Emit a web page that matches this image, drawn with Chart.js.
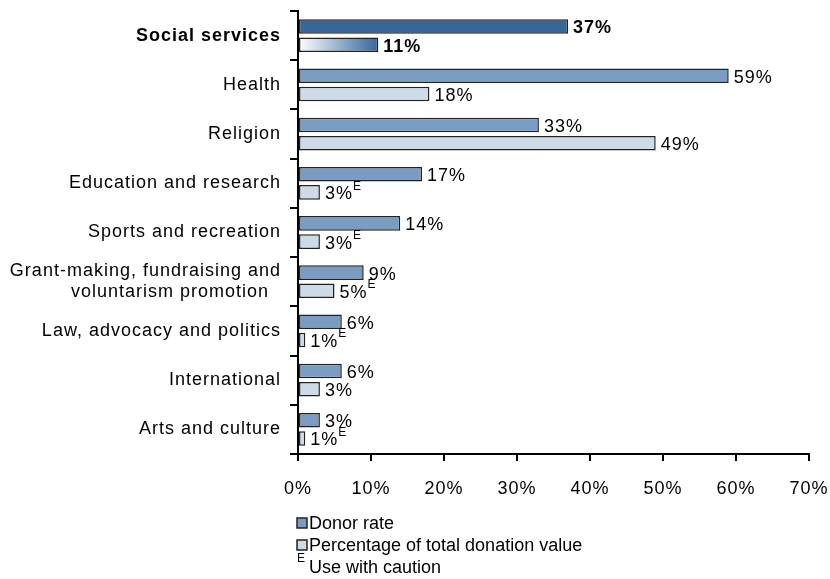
<!DOCTYPE html>
<html>

<head>
    <title>Donor rate and share of donation value, by cause</title>
    <script src="https://cdn.jsdelivr.net/npm/chart.js"></script>
    <style>
        body { margin: 0; background: #fff; }
        #wrap { width: 830px; height: 579px; }
    </style>
</head>

<body>
    <div id="wrap">
        <canvas id="donations-chart" width="830" height="579"></canvas>
    </div>

    <script>
        // Causes, top to bottom
        const categories = [
            'Social services',
            'Health',
            'Religion',
            'Education and research',
            'Sports and recreation',
            ['Grant-making, fundraising and', 'voluntarism promotion  '],
            'Law, advocacy and politics',
            'International',
            'Arts and culture'
        ];
        const donorRate = [37, 59, 33, 17, 14, 9, 6, 6, 3];
        const donationShare = [11, 18, 49, 3, 3, 5, 1, 3, 1];
        // "E" flag on the donation share estimates
        const shareCaution = [false, false, false, true, true, true, true, false, true];
        const xTicks = [0, 10, 20, 30, 40, 50, 60, 70];

        const highlight = 0; // Social services is emphasised
        const FONT = '"Liberation Sans", Arial, sans-serif';
        const DARK = '#36669a';
        const DONOR = '#7a9bc2';
        const SHARE = '#cddae7';
        const SPACING = '1px';

        // the canvas state is reset whenever Chart.js sizes it, so reapply the
        // wider letter spacing before measuring and before drawing
        const wideText = {
            id: 'wideText',
            beforeUpdate(chart) { chart.ctx.letterSpacing = SPACING; },
            beforeDraw(chart) { chart.ctx.letterSpacing = SPACING; }
        };

        // value labels at the end of each bar, with the "E" superscript
        const valueLabels = {
            id: 'valueLabels',
            afterDatasetsDraw(chart) {
                const ctx = chart.ctx;
                ctx.save();
                ctx.fillStyle = '#000';
                ctx.textAlign = 'left';
                ctx.textBaseline = 'middle';
                chart.data.datasets.forEach((ds, di) => {
                    chart.getDatasetMeta(di).data.forEach((bar, i) => {
                        ctx.font = (i === highlight ? 'bold ' : '') + '18px ' + FONT;
                        const text = ds.data[i] + '%';
                        const x = bar.x + 5;
                        const y = bar.y + 2;
                        ctx.fillText(text, x, y);
                        if (di === 1 && shareCaution[i]) {
                            const w = ctx.measureText(text).width;
                            ctx.font = '12px ' + FONT;
                            ctx.fillText('E', x + w, y - 8);
                        }
                    });
                });
                ctx.restore();
            }
        };

        // legend under the axis, set in normal spacing
        const footLegend = {
            id: 'footLegend',
            afterDraw(chart) {
                const ctx = chart.ctx;
                ctx.save();
                ctx.letterSpacing = '0px';
                ctx.textAlign = 'left';
                ctx.textBaseline = 'middle';
                ctx.lineWidth = 1.5;
                ctx.strokeStyle = '#222';
                const rows = [
                    { color: DONOR, text: 'Donor rate', y: 523 },
                    { color: SHARE, text: 'Percentage of total donation value', y: 545 }
                ];
                rows.forEach(r => {
                    ctx.fillStyle = r.color;
                    ctx.fillRect(297, r.y - 5, 10, 10);
                    ctx.strokeRect(297, r.y - 5, 10, 10);
                    ctx.fillStyle = '#000';
                    ctx.font = '18px ' + FONT;
                    ctx.fillText(r.text, 309, r.y + 1);
                });
                ctx.font = '12px ' + FONT;
                ctx.fillText('E', 297, 559);
                ctx.font = '18px ' + FONT;
                ctx.fillText('Use with caution', 309, 568);
                ctx.restore();
            }
        };

        function shareFill(context) {
            if (context.dataIndex !== highlight) return SHARE;
            const chart = context.chart;
            if (!chart.chartArea) return DARK;
            const x = chart.scales.x;
            const g = chart.ctx.createLinearGradient(x.getPixelForValue(0), 0, x.getPixelForValue(donationShare[highlight]), 0);
            g.addColorStop(0, '#ffffff');
            g.addColorStop(1, DARK);
            return g;
        }

        const ctx = document.getElementById('donations-chart').getContext('2d');
        new Chart(ctx, {
            type: 'bar',
            data: {
                labels: categories,
                datasets: [
                    {
                        label: 'Donor rate',
                        data: donorRate,
                        backgroundColor: donorRate.map((v, i) => i === highlight ? DARK : DONOR),
                        borderColor: '#222',
                        borderWidth: 1.5,
                        borderSkipped: false,
                        categoryPercentage: 0.74,
                        barPercentage: 0.8
                    },
                    {
                        label: 'Percentage of total donation value',
                        data: donationShare,
                        backgroundColor: shareFill,
                        borderColor: '#222',
                        borderWidth: 1.5,
                        borderSkipped: false,
                        categoryPercentage: 0.74,
                        barPercentage: 0.8
                    }
                ]
            },
            options: {
                indexAxis: 'y',
                responsive: false,
                animation: false,
                layout: { padding: { top: 11, right: 21, bottom: 0, left: 0 } },
                plugins: {
                    legend: { display: false },
                    tooltip: { enabled: false }
                },
                scales: {
                    x: {
                        min: 0,
                        max: 70,
                        afterBuildTicks: scale => { scale.ticks = xTicks.map(v => ({ value: v })); },
                        afterFit: scale => {
                            scale.height = 125;
                            scale.paddingLeft = 0;
                            scale.paddingRight = 0;
                        },
                        border: { display: true, color: '#000', width: 2 },
                        grid: { drawOnChartArea: false, drawTicks: true, tickLength: 7, color: '#000', lineWidth: 2 },
                        ticks: {
                            callback: v => v + '%',
                            color: '#000',
                            padding: 17,
                            font: { family: FONT, size: 18 }
                        }
                    },
                    y: {
                        afterFit: scale => {
                            scale.width = 298;
                            scale.paddingTop = 0;
                            scale.paddingBottom = 0;
                        },
                        border: { display: true, color: '#000', width: 2 },
                        grid: { drawOnChartArea: false, drawTicks: true, tickLength: 8, color: '#000', lineWidth: 2 },
                        ticks: {
                            color: '#000',
                            padding: 9,
                            autoSkip: false,
                            font: ctx => ({ family: FONT, size: 18, weight: ctx.index === highlight ? 'bold' : 'normal', lineHeight: 1.15 })
                        }
                    }
                }
            },
            plugins: [wideText, valueLabels, footLegend]
        });
    </script>
</body>

</html>
